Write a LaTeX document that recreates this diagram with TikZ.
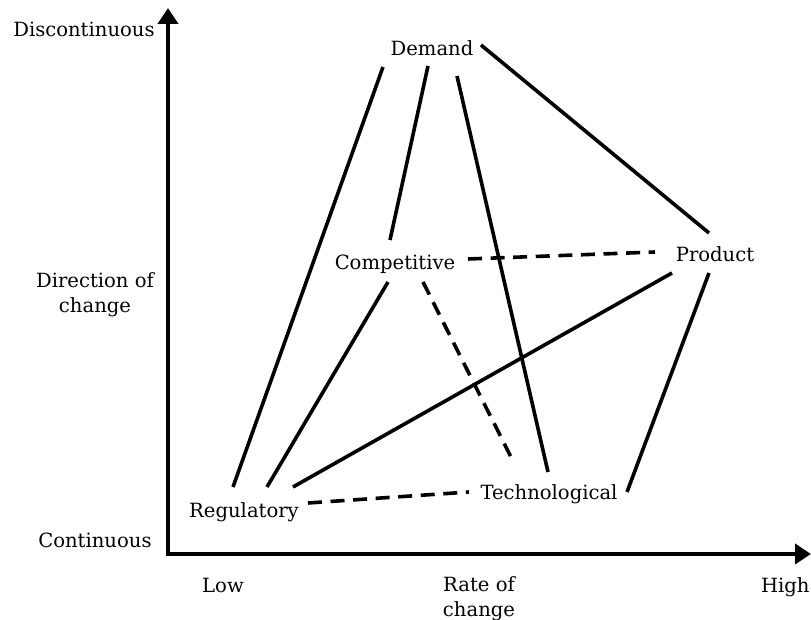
\documentclass[tikz,border=0pt]{standalone}
\usepackage{fontspec}
\setmainfont{DejaVu Serif}
\usepackage{tikz}
\usetikzlibrary{arrows.meta,positioning}

\begin{document}
\begin{tikzpicture}[
  x=0.5pt, y=-0.5pt,
  factor/.style={inner sep=0pt, anchor=base},
  axislabel/.style={inner sep=0pt, anchor=base, align=center},
  axis/.style={line width=2.1pt, -{Triangle[length=8pt, width=10pt]}},
  link/.style={line width=1.8pt},
  weaklink/.style={line width=1.8pt, dash pattern=on 7pt off 4.3pt},
  every node/.style={font=\fontsize{9.8}{12.5}\selectfont}
]
  \useasboundingbox (0,0) rectangle (811,620);

  % Axes
  \coordinate (origin) at (168,554);
  \coordinate (ytop) at (168,8);
  \coordinate (xend) at (811,554);
  \draw[axis] ([yshift=-1pt]origin) -- (ytop);
  \draw[axis] ([xshift=-1pt]origin) -- (xend);

  % Axis labels (multi-line ones sit on their last line)
  \node[axislabel, anchor=base east] (disc) at (155,37) {Discontinuous};
  \node[axislabel] (dir) at (95,313) {Direction of\\change};
  \node[axislabel, anchor=base east] (cont) at (152,548) {Continuous};
  \node[axislabel] (low) at (223,593) {Low};
  \node[axislabel] (rate) at (479,617) {Rate of\\change};
  \node[axislabel, anchor=base east] (high) at (810,593) {High};

  % Factors
  \node[factor] (dem) at (432,56) {Demand};
  \node[factor] (comp) at (395,270) {Competitive};
  \node[factor] (prod) at (715,262) {Product};
  \node[factor] (reg) at (244,518) {Regulatory};
  \node[factor] (tech) at (549,500) {Technological};

  % Links
  \draw[link] ([shift={(-11,-31)}]reg.base) -- ([shift={(-49,11)}]dem.base);
  \draw[link] ([shift={(23,-31)}]reg.base) -- ([shift={(-7,12)}]comp.base);
  \draw[link] ([shift={(49,-31)}]reg.base) -- ([shift={(-43,11)}]prod.base);
  \draw[link] ([shift={(-5,-30)}]comp.base) -- ([shift={(-4,10)}]dem.base);
  \draw[link] ([shift={(25,20)}]dem.base) -- ([shift={(-1,-28)}]tech.base);
  \draw[link] ([shift={(49,-11)}]dem.base) -- ([shift={(-6,-29)}]prod.base);
  \draw[link] ([shift={(78,-8)}]tech.base) -- ([shift={(-6,11)}]prod.base);

  % Weak links
  \draw[weaklink] ([shift={(64,-15)}]reg.base) -- ([shift={(-80,-8)}]tech.base);
  \draw[weaklink] ([shift={(73,-11)}]comp.base) -- ([shift={(-60,-10)}]prod.base);
  \draw[weaklink] ([shift={(28,12)}]comp.base) -- ([shift={(-35,-37)}]tech.base);
\end{tikzpicture}
\end{document}
